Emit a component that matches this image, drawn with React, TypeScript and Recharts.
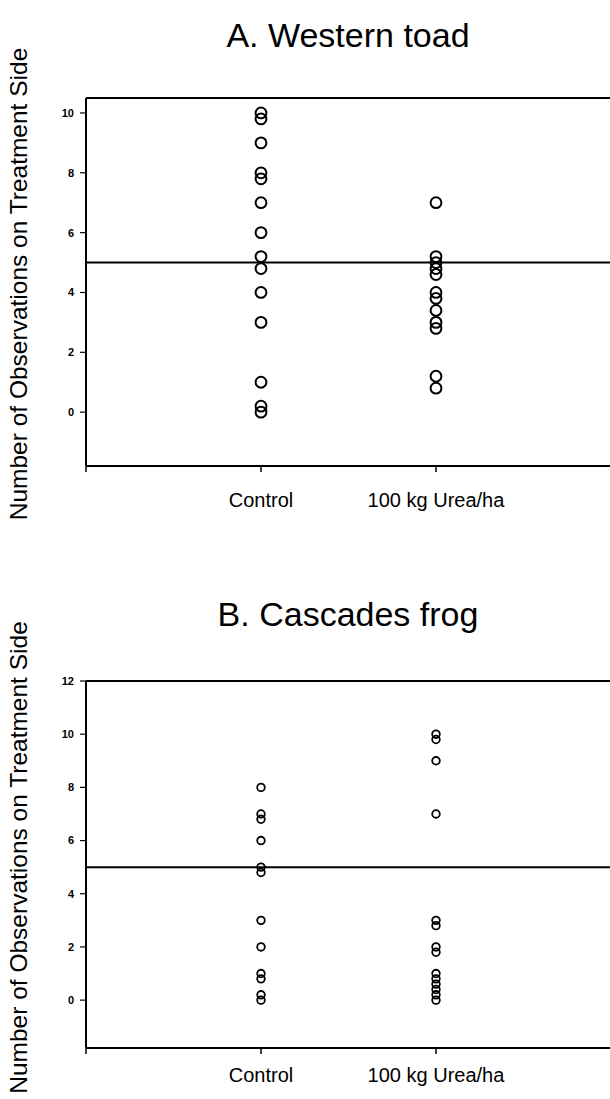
import { ReferenceLine, Scatter, ScatterChart, XAxis, YAxis } from "recharts"

// categories sit at x = 1 and 2 on a 0..3 axis
const CATEGORIES = ["Control", "100 kg Urea/ha"]

// A. Western toad
const TOAD_CONTROL = [10, 9.8, 9, 8, 7.8, 7, 6, 5.2, 4.8, 4, 3, 1, 0.2, 0]
const TOAD_UREA = [7, 5.2, 5, 4.8, 4.6, 4, 3.8, 3.4, 3, 2.8, 1.2, 0.8]
const TOAD_TICKS = [0, 2, 4, 6, 8, 10]
const TOAD_YMAX = 10.5

// B. Cascades frog
const FROG_CONTROL = [8, 7, 6.8, 6, 5, 4.8, 3, 2, 1, 0.8, 0.2, 0]
const FROG_UREA = [10, 9.8, 9, 7, 3, 2.8, 2, 1.8, 1, 0.8, 0.6, 0.4, 0.2, 0]
const FROG_TICKS = [0, 2, 4, 6, 8, 10, 12]
const FROG_YMAX = 12

const YMIN = -1.8
const NULL_LINE = 5 // half of 10 observations

const FONT = "'Liberation Sans', Arial, Helvetica, sans-serif"
const INK = "#000"

const toPoints = (vals: number[], pos: number) => vals.map((v) => ({ x: pos, y: v }))

function Panel({
  control,
  urea,
  yMax,
  ticks,
  r,
  ringW,
  height,
  top,
  bottom,
  xAxisH,
  tickGap,
  labelShift,
}: {
  control: number[]
  urea: number[]
  yMax: number
  ticks: number[]
  r: number
  ringW: number
  height: number
  top: number
  bottom: number
  xAxisH: number
  tickGap: number
  labelShift: number
}) {
  const ring = (p: any) => <circle cx={p.cx} cy={p.cy} r={r} fill="none" stroke={INK} strokeWidth={ringW} />

  const yLabel = (props: any) => {
    const vb = props.viewBox
    const cy = vb.y + vb.height / 2 + labelShift
    return (
      <text
        x={18}
        y={cy}
        transform={`rotate(-90 18 ${cy})`}
        textAnchor="middle"
        dominantBaseline="central"
        fontSize={24.5}
        fill={INK}
        fontFamily={FONT}
      >
        Number of Observations on Treatment Side
      </text>
    )
  }

  return (
    <ScatterChart width={612} height={height} margin={{ top, right: 1, left: 0, bottom }}>
      <XAxis
        type="number"
        dataKey="x"
        domain={[0, 3]}
        ticks={[0, 1, 2, 3]}
        interval={0}
        tickFormatter={(v: number) => CATEGORIES[v - 1] ?? ""}
        height={xAxisH}
        tickSize={6}
        tickMargin={tickGap}
        axisLine={{ stroke: INK, strokeWidth: 2 }}
        tickLine={{ stroke: INK, strokeWidth: 1.5 }}
        tick={{ fill: INK, fontSize: 20, fontFamily: FONT }}
        allowDataOverflow
      />
      <YAxis
        type="number"
        dataKey="y"
        domain={[YMIN, yMax]}
        ticks={ticks}
        interval={0}
        width={86}
        tickSize={6}
        tickMargin={6}
        axisLine={{ stroke: INK, strokeWidth: 2 }}
        tickLine={{ stroke: INK, strokeWidth: 1.2 }}
        tick={{ fill: INK, fontSize: 11, fontWeight: 700, fontFamily: FONT }}
        label={yLabel}
        allowDataOverflow
      />
      <ReferenceLine y={yMax} stroke={INK} strokeWidth={2} />
      <ReferenceLine y={NULL_LINE} stroke={INK} strokeWidth={2} />
      <Scatter data={toPoints(control, 1)} shape={ring} isAnimationActive={false} />
      <Scatter data={toPoints(urea, 2)} shape={ring} isAnimationActive={false} />
    </ScatterChart>
  )
}

export default function App() {
  return (
    <div
      style={{
        position: "absolute",
        left: 0,
        top: 0,
        width: 610,
        height: 1099,
        overflow: "hidden",
        background: "#fff",
        fontFamily: FONT,
      }}
    >
      <div style={{ position: "absolute", left: 0, top: 0 }}>
        <Panel
          control={TOAD_CONTROL}
          urea={TOAD_UREA}
          yMax={TOAD_YMAX}
          ticks={TOAD_TICKS}
          r={5.4}
          ringW={2}
          height={540}
          top={98}
          bottom={14}
          xAxisH={60}
          tickGap={21}
          labelShift={2}
        />
      </div>
      <div style={{ position: "absolute", left: 0, top: 560 }}>
        <Panel
          control={FROG_CONTROL}
          urea={FROG_UREA}
          yMax={FROG_YMAX}
          ticks={FROG_TICKS}
          r={3.8}
          ringW={1.8}
          height={539}
          top={121}
          bottom={6}
          xAxisH={45}
          tickGap={14}
          labelShift={-7}
        />
      </div>
      <svg width={610} height={1099} style={{ position: "absolute", left: 0, top: 0, pointerEvents: "none" }}>
        <text x={348} y={47} textAnchor="middle" fontSize={34} fill={INK} fontFamily={FONT}>
          A. Western toad
        </text>
        <text x={348} y={626} textAnchor="middle" fontSize={34} fill={INK} fontFamily={FONT}>
          B. Cascades frog
        </text>
      </svg>
    </div>
  )
}
